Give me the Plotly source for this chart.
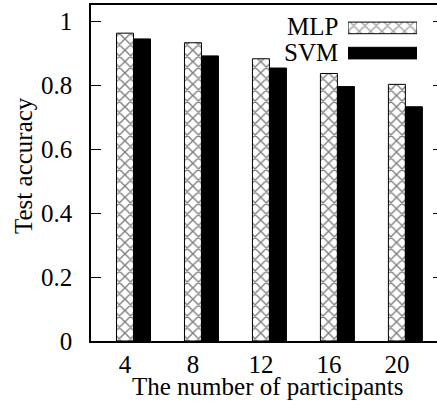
import plotly.graph_objects as go

categories = ["4", "8", "12", "16", "20"]
mlp = [0.962, 0.932, 0.882, 0.836, 0.802]
svm = [0.944, 0.891, 0.853, 0.795, 0.732]
series_names = ["MLP", "SVM"]
y_ticks = [0, 0.2, 0.4, 0.6, 0.8, 1.0]
y_ticktext = ["0", "0.2", "0.4", "0.6", "0.8", "1"]

FONT = "Liberation Serif"
W, H = 437, 412
ML, MR, MT, MB = 91, 0, 5, 71

fig = go.Figure()

pattern = dict(shape="x", fgcolor="black", bgcolor="white", size=8, solidity=0.32, fillmode="overlay")

fig.add_trace(go.Bar(
    x=categories, y=mlp, name=series_names[0], width=0.25, offset=-0.125,
    marker=dict(color="white", pattern=pattern, line=dict(color="black", width=1)),
    showlegend=False,
))
fig.add_trace(go.Bar(
    x=categories, y=svm, name=series_names[1], width=0.25, offset=0.125,
    marker=dict(color="black", line=dict(color="black", width=1)),
    showlegend=False,
))

# Right-side mirrored ticks (the right border lies outside the picture)
fig.add_trace(go.Scatter(x=[None], y=[None], xaxis="x", yaxis="y2", showlegend=False))

# Custom legend samples (wide boxes, text on the left)
fig.add_trace(go.Bar(
    y=series_names, x=[1, 1], orientation="h", width=0.46,
    xaxis="x3", yaxis="y3", showlegend=False,
    marker=dict(color=["white", "black"],
                pattern=dict(shape=["x", ""], fgcolor="black", bgcolor="white", size=8, solidity=0.32, fillmode="overlay"),
                line=dict(color="black", width=1)),
))

axis_font = dict(family=FONT, size=25, color="black")

pw = W - ML - MR
ph = H - MT - MB
def px_x(p):
    return (p - ML) / pw
def px_y(p):
    return (H - MB - p) / ph

fig.update_layout(
    width=W, height=H,
    margin=dict(l=ML, r=MR, t=MT, b=MB, pad=0),
    paper_bgcolor="white", plot_bgcolor="white",
    barmode="overlay",
    font=axis_font,
    xaxis=dict(
        type="category", categoryorder="array", categoryarray=categories,
        range=[-0.5, 4.59], showline=True, linecolor="black", linewidth=1.5,
        mirror=True, ticks="inside", ticklen=10, tickwidth=1, tickcolor="black",
        showgrid=False, zeroline=False, tickfont=axis_font, layer="below traces",
        ticklabelstandoff=0,
    ),
    yaxis=dict(
        range=[0, 1.05], tickvals=y_ticks, ticktext=y_ticktext,
        showline=True, linecolor="black", linewidth=1.5, mirror=False,
        ticks="inside", ticklen=10, tickwidth=1, tickcolor="black",
        showgrid=False, zeroline=False, tickfont=axis_font, ticklabelstandoff=12,
    ),
    yaxis2=dict(
        overlaying="y", side="right", range=[0, 1.05], tickvals=y_ticks,
        showticklabels=False, ticks="inside", ticklen=4, tickwidth=1, tickcolor="black",
        showline=False, showgrid=False, zeroline=False,
    ),
    xaxis3=dict(domain=[px_x(348), px_x(417)], range=[0, 1], visible=False, anchor="y3"),
    yaxis3=dict(domain=[px_y(61), px_y(20)], type="category", categoryorder="array",
                categoryarray=["SVM", "MLP"], range=[-0.3125, 1.3125], visible=False, anchor="x3"),
    annotations=[
        dict(text="MLP", xref="x3", yref="y3", x=0, y="MLP", xanchor="right", yanchor="middle",
             xshift=-8, yshift=1, showarrow=False, font=axis_font),
        dict(text="SVM", xref="x3", yref="y3", x=0, y="SVM", xanchor="right", yanchor="middle",
             xshift=-8, yshift=1, showarrow=False, font=axis_font),
        dict(text="The number of participants", xref="paper", yref="paper",
             x=px_x(267), y=px_y(386), xanchor="center", yanchor="middle",
             showarrow=False, font=axis_font),
        dict(text="Test accuracy", xref="paper", yref="paper",
             x=px_x(23), y=px_y(166), xanchor="center", yanchor="middle", textangle=-90,
             showarrow=False, font=axis_font),
    ],
)

fig.write_html(
    "out.html",
    config={"displayModeBar": False},
    post_script="document.body.style.margin='0';document.body.style.overflow='hidden';",
)
